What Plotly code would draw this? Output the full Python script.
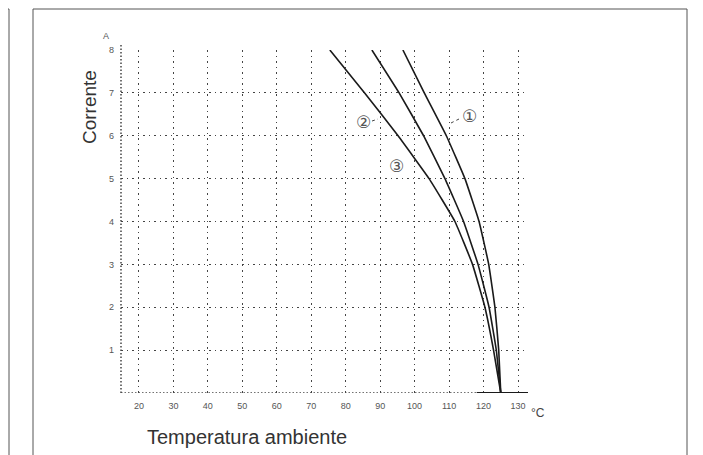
import plotly.graph_objects as go

# Data
temp_ticks = [20, 30, 40, 50, 60, 70, 80, 90, 100, 110, 120, 130]
current_ticks = [1, 2, 3, 4, 5, 6, 7, 8]

current_levels = [8, 7, 6, 5, 4, 3, 2, 1, 0]
curve_1_temp = [96.6, 102.8, 109.2, 114.6, 118.7, 121.5, 123.3, 124.4, 125.0]
curve_2_temp = [75.4, 85.5, 95.2, 104.2, 111.7, 116.8, 120.4, 122.9, 125.0]
curve_3_temp = [87.6, 95.5, 102.6, 108.8, 114.2, 118.4, 121.6, 123.7, 125.0]

# page has an 8px body margin: figure coords = screen coords - 8
OFF = 8
W, H = 695, 447
L, T = 121 - OFF, 50 - OFF
R = W - (528 - OFF)
B = H - (393 - OFF)
PW, PH = W - L - R, H - T - B

def px(xp):
    return (xp - OFF - L) / PW

def py(yp):
    return (H - B - (yp - OFF)) / PH

fig = go.Figure()
for xs in (curve_1_temp, curve_2_temp, curve_3_temp):
    fig.add_trace(go.Scatter(x=xs, y=current_levels, mode="lines",
                             line=dict(color="#1a1a1a", width=1.6, shape="spline", smoothing=0.3),
                             showlegend=False, hoverinfo="skip"))

dot = "1.5px,4px"
fig.update_layout(
    width=W, height=H,
    margin=dict(l=L, r=R, t=T, b=B),
    paper_bgcolor="white", plot_bgcolor="white",
    font=dict(family="Liberation Sans", color="#333"),
    xaxis=dict(range=[14.8, 132.9], tickvals=temp_ticks, ticktext=[str(v) for v in temp_ticks],
               showgrid=True, gridcolor="#444", gridwidth=1.2, griddash=dot,
               zeroline=False, showline=False, ticks="",
               tickfont=dict(size=9, color="#555"), ticklabelstandoff=6),
    yaxis=dict(range=[0, 8], tickvals=current_ticks, ticktext=[str(v) for v in current_ticks],
               showgrid=True, gridcolor="#444", gridwidth=1.2, griddash=dot,
               zeroline=False, showline=False, ticks="",
               tickfont=dict(size=9, color="#555"), ticklabelstandoff=6),
)

shapes = []
shapes.append(dict(type="line", xref="paper", yref="paper", x0=0, x1=0, y0=0, y1=py(45),
                   line=dict(color="#444", width=1.5, dash="1.5px,2px")))
shapes.append(dict(type="line", xref="x", yref="y", x0=14.8, x1=118, y0=0, y1=0,
                   line=dict(color="#444", width=1.5, dash="1.5px,2px")))
shapes.append(dict(type="line", xref="x", yref="y", x0=118, x1=132.9, y0=0, y1=0,
                   line=dict(color="#1a1a1a", width=1.8)))
shapes.append(dict(type="rect", xref="paper", yref="paper", x0=px(33), x1=px(687), y0=py(470), y1=py(9),
                   line=dict(color="#555", width=1)))
shapes.append(dict(type="line", xref="paper", yref="paper", x0=px(9), x1=px(9), y0=py(470), y1=py(9),
                   line=dict(color="#555", width=1)))
shapes.append(dict(type="line", xref="paper", yref="paper", x0=px(0), x1=px(9), y0=py(9), y1=py(9),
                   line=dict(color="#555", width=1)))
shapes.append(dict(type="line", xref="paper", yref="paper", x0=px(459), x1=px(451), y0=py(119), y1=py(123),
                   line=dict(color="#444", width=1, dash="dot")))
shapes.append(dict(type="line", xref="paper", yref="paper", x0=px(372), x1=px(378), y0=py(121), y1=py(119),
                   line=dict(color="#444", width=1, dash="dot")))
fig.update_layout(shapes=shapes)

ann = [
    dict(text="Temperatura ambiente", x=px(145), y=py(437), xanchor="left", yanchor="middle",
         font=dict(size=20, color="#333")),
    dict(text="Corrente", x=px(90), y=py(107), xanchor="center", yanchor="middle", textangle=-90,
         font=dict(size=19, color="#333")),
    dict(text="°C", x=px(529), y=py(413), xanchor="left", yanchor="middle",
         font=dict(size=12, color="#444")),
    dict(text="A", x=px(106), y=py(36), xanchor="center", yanchor="middle",
         font=dict(size=9, color="#555")),
    dict(text="①", x=px(469), y=py(116), xanchor="center", yanchor="middle",
         font=dict(size=17, color="#555", family="DejaVu Sans")),
    dict(text="②", x=px(363), y=py(122), xanchor="center", yanchor="middle",
         font=dict(size=17, color="#555", family="DejaVu Sans")),
    dict(text="③", x=px(396), y=py(166), xanchor="center", yanchor="middle",
         font=dict(size=17, color="#555", family="DejaVu Sans")),
]
for a in ann:
    a.update(xref="paper", yref="paper", showarrow=False)
fig.update_layout(annotations=ann)

fig.write_html("out.html")
